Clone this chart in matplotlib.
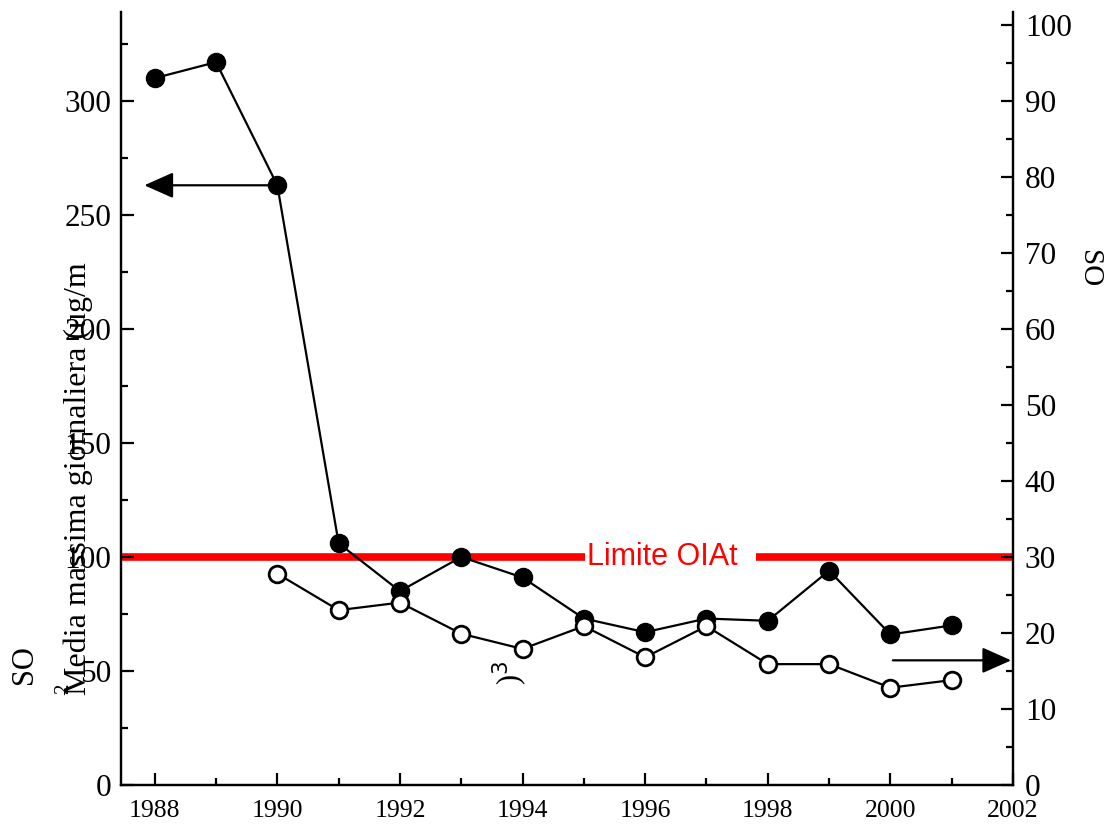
import matplotlib
matplotlib.use("Agg")
import matplotlib.pyplot as plt
from matplotlib.ticker import MultipleLocator

years_so2 = [1988, 1989, 1990, 1991, 1992, 1993, 1994, 1995, 1996, 1997, 1998, 1999, 2000, 2001]
so2_values = [310, 317, 263, 106, 85, 100, 91, 73, 67, 73, 72, 94, 66, 70]
years_right = [1990, 1991, 1992, 1993, 1994, 1995, 1996, 1997, 1998, 1999, 2000, 2001]
right_values = [27.8, 23, 24, 19.9, 17.9, 20.9, 16.8, 20.9, 15.9, 15.9, 12.8, 13.8]
limit_value = 100
limit_label = "Limite OIAt"
x_ticks = [1988, 1990, 1992, 1994, 1996, 1998, 2000, 2002]

serif = "Liberation Serif"
fig = plt.figure(figsize=(11.04, 8.27), dpi=100)
ax = fig.add_axes([0.1096, 0.0508, 0.808, 0.9347])
ax2 = ax.twinx()

ax.set_xlim(1987.45, 2002)
ax.set_ylim(0, 339)
ax2.set_ylim(0, 101.7)

for a in (ax, ax2):
    a.spines["top"].set_visible(False)
    for s in a.spines.values():
        s.set_linewidth(1.6)

ax.axhline(limit_value, color="#ff0000", lw=5.5, zorder=1)
ax.text(1995.05, limit_value, limit_label + "  ", color="#ff0000", fontsize=22,
        family="Liberation Sans", ha="left", va="center", zorder=2,
        bbox=dict(facecolor="white", edgecolor="none", pad=1))

ax.plot(years_so2, so2_values, "-o", color="black", lw=1.6, ms=13, zorder=3)
ax2.plot(years_right, right_values, "-o", color="black", lw=1.6, ms=12,
         mfc="white", mec="black", mew=2, zorder=3)

arrow_style = "-|>,head_length=1.8,head_width=0.8"
ax.annotate("", xy=(1987.83, so2_values[2]), xytext=(years_so2[2], so2_values[2]),
            arrowprops=dict(arrowstyle=arrow_style, color="black", lw=1.6,
                            shrinkA=0, shrinkB=0), zorder=2)
ax2.annotate("", xy=(2001.97, 16.4), xytext=(2000.04, 16.4),
             arrowprops=dict(arrowstyle=arrow_style, color="black", lw=1.6,
                             shrinkA=0, shrinkB=0))

ax.set_xticks(x_ticks)
ax.xaxis.set_minor_locator(MultipleLocator(1))
ax.yaxis.set_major_locator(MultipleLocator(50))
ax.yaxis.set_minor_locator(MultipleLocator(25))
ax2.yaxis.set_major_locator(MultipleLocator(10))
ax2.yaxis.set_minor_locator(MultipleLocator(5))

ax.tick_params(axis="both", which="major", direction="in", length=9, width=1.6)
ax.tick_params(axis="both", which="minor", direction="in", length=5, width=1.6)
ax.tick_params(axis="x", top=False, which="both", labelsize=18.5, pad=11)
ax.tick_params(axis="y", labelsize=22.5, pad=7)
ax2.tick_params(axis="y", which="major", direction="in", length=9, width=1.6, labelsize=22.5, pad=8.5)
ax2.tick_params(axis="y", which="minor", direction="in", length=5, width=1.6)
for lbl in ax.get_xticklabels() + ax.get_yticklabels() + ax2.get_yticklabels():
    lbl.set_family(serif)

fig.text(25 / 1104, 1 - 665 / 827, "SO", rotation=90, fontsize=22, family=serif, ha="center", va="center")
fig.text(64 / 1104, 1 - 689 / 827, "2", rotation=90, fontsize=15, family=serif, ha="center", va="center")
fig.text(78 / 1104, 1 - 695 / 827, "Media massima giornaliera (ug/m", rotation=90, fontsize=23,
         family=serif, ha="center", va="bottom")
fig.text(510 / 1104, 1 - 673 / 827, ")$^{3}$", rotation=90, fontsize=22, family=serif, ha="center", va="center")
fig.text(1089 / 1104, 1 - 269 / 827, "SO", rotation=270, fontsize=21, family=serif, ha="center", va="center")

fig.savefig("out.png", dpi=100)
